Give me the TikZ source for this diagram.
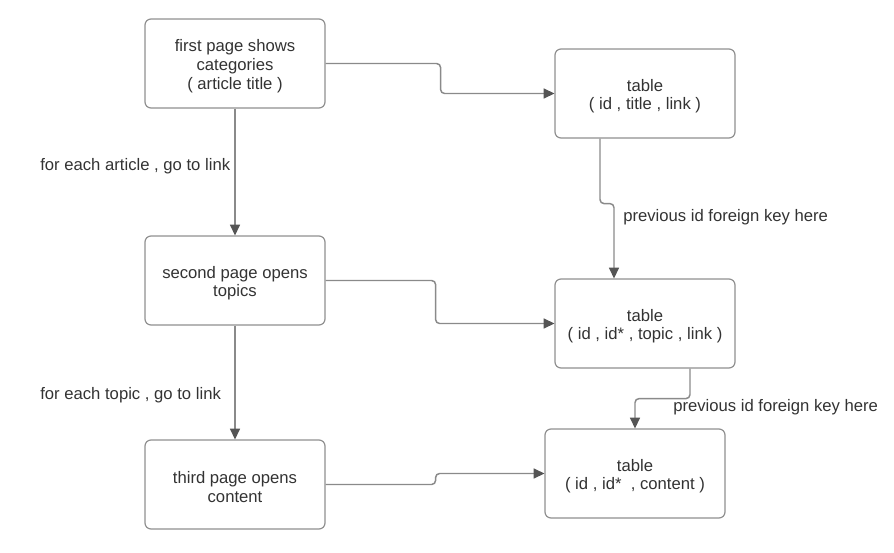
\documentclass[tikz,border=0pt]{standalone}
\usepackage{fontspec}
\setmainfont{Liberation Sans}
\usetikzlibrary{arrows.meta,calc}
\definecolor{txt}{HTML}{333333}
\definecolor{boxline}{HTML}{909090}
\definecolor{connline}{HTML}{8A8A8A}
\definecolor{tipcol}{HTML}{555555}
\tikzset{
  procbox/.style={draw=boxline,line width=0.9pt,rounded corners=4.5pt,fill=white,
    minimum width=135pt,minimum height=66.75pt,align=center,text=txt,
    font=\fontsize{12.5}{14}\selectfont,inner sep=2pt},
  conn/.style={draw=connline,line width=1.1pt,rounded corners=3pt,
    -{Triangle[length=8pt,width=7.5pt,color=tipcol]}},
  lbl/.style={text=txt,font=\fontsize{12.5}{14}\selectfont,inner sep=0pt}
}
\begin{document}
\begin{tikzpicture}[x=0.75pt,y=-0.75pt]
\useasboundingbox (0,0) rectangle (894,553);
\node[procbox] (A) at (235,63.5) {\rule{0pt}{13pt}first page shows\\categories\\( article title )};
\node[procbox] (B) at (645,93.5) {\rule{0pt}{13pt}table\\( id , title , link )};
\node[procbox] (C) at (235,280.5) {\rule{0pt}{13pt}second page opens\\topics};
\node[procbox] (D) at (645,323.5) {\rule{0pt}{13pt}table\\( id , id* , topic , link )};
\node[procbox] (E) at (235,484.5) {\rule{0pt}{13pt}third page opens\\content};
\node[procbox] (F) at (635,473.5) {\rule{0pt}{13pt}table\\( id , id*~ , content )};

\draw[conn] (A.east) -- ++(115,0) |- (B.west);
\draw[conn] (C.east) -- ++(110,0) |- (D.west);
\draw[conn] (E.east) -- ++(110,0) |- (F.west);
\draw[conn] (A.south) -- (C.north);
\draw[conn] (C.south) -- (E.north);
\draw[conn] ($(B.south)+(-45,0)$) -- ++(0,65) -| ($(D.north)+(-31,0)$);
\draw[conn] ($(D.south)+(45,0)$) -- ++(0,30) -| (F.north);

\node[lbl,anchor=west] (l1) at (40,166.5) {for each article , go to link};
\node[lbl,anchor=west] (l2) at (40,395.5) {for each topic , go to link};
\node[lbl,anchor=west] (l3) at (623,217.5) {previous id foreign key here};
\node[lbl,anchor=west] (l4) at (673,407.5) {previous id foreign key here};
\end{tikzpicture}
\end{document}
